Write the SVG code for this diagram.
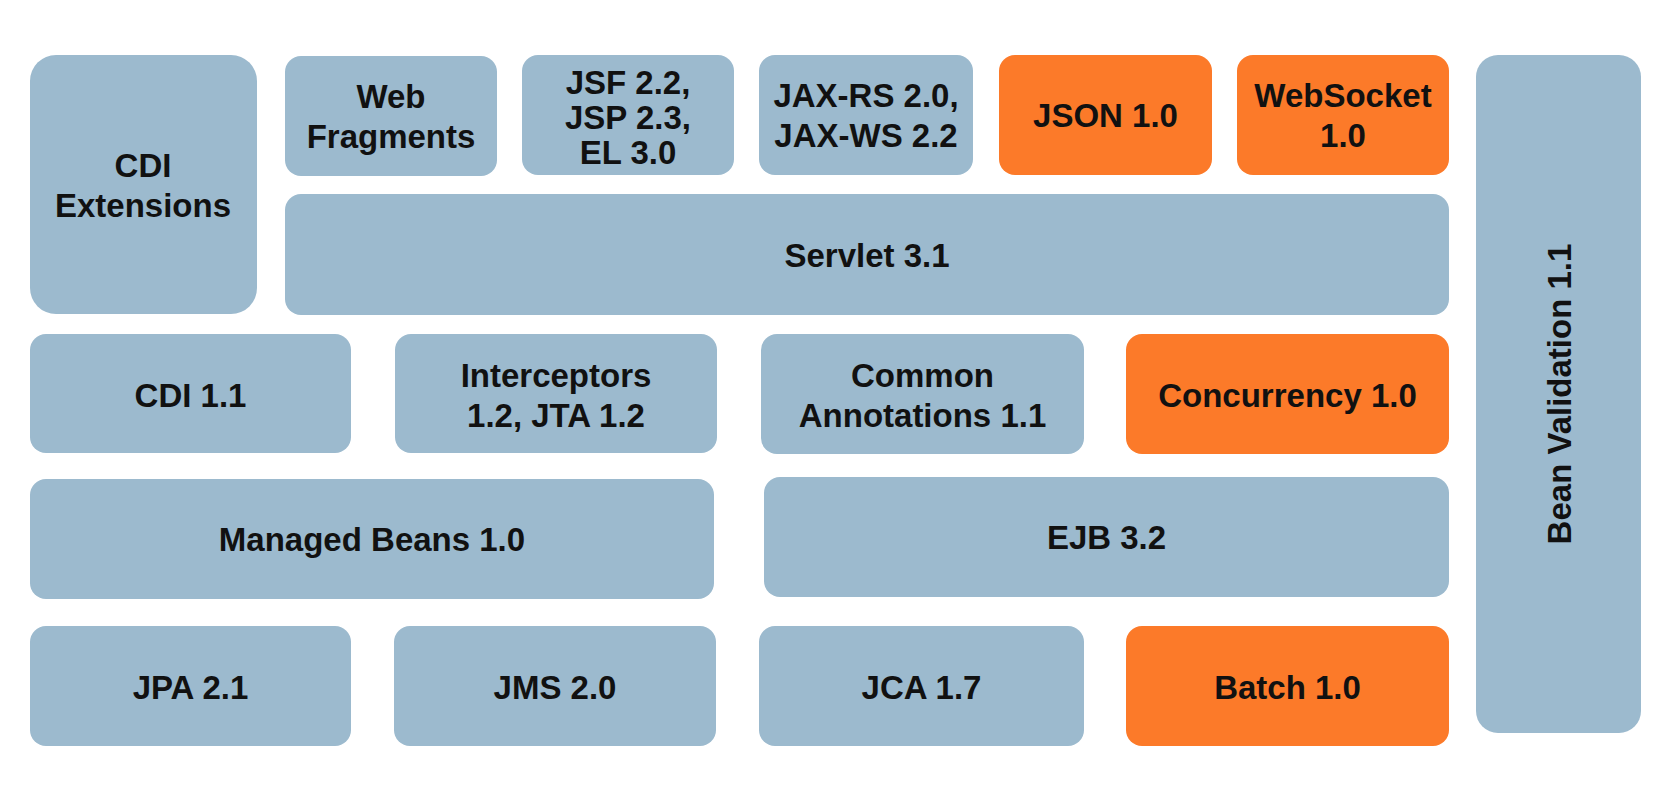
<svg xmlns="http://www.w3.org/2000/svg" width="1669" height="785" viewBox="0 0 1669 785">
  <style>
    .b { fill: #9cbace; }
    .o { fill: #fc7a29; }
    text { font-family: "Liberation Sans", Arial, Helvetica, sans-serif; font-weight: bold; font-size: 33px; fill: #111111; text-anchor: middle; }
  </style>
  <rect x="0" y="0" width="1669" height="785" fill="#ffffff"/>
  <g id="cdi-extensions">
    <rect class="b" x="30" y="55" width="227" height="259" rx="26" ry="26"/>
    <text x="143" y="177">CDI</text>
    <text x="143" y="217">Extensions</text>
  </g>
  <g id="web-fragments">
    <rect class="b" x="285" y="56" width="212" height="120" rx="16" ry="16"/>
    <text x="391" y="108">Web</text>
    <text x="391" y="148">Fragments</text>
  </g>
  <g id="jsf">
    <rect class="b" x="522" y="55" width="212" height="120" rx="16" ry="16"/>
    <text x="628" y="94">JSF 2.2,</text>
    <text x="628" y="129">JSP 2.3,</text>
    <text x="628" y="164">EL 3.0</text>
  </g>
  <g id="jax">
    <rect class="b" x="759" y="55" width="214" height="120" rx="16" ry="16"/>
    <text x="866" y="107">JAX-RS 2.0,</text>
    <text x="866" y="147">JAX-WS 2.2</text>
  </g>
  <g id="json">
    <rect class="o" x="999" y="55" width="213" height="120" rx="16" ry="16"/>
    <text x="1105.5" y="127">JSON 1.0</text>
  </g>
  <g id="websocket">
    <rect class="o" x="1237" y="55" width="212" height="120" rx="16" ry="16"/>
    <text x="1343" y="107">WebSocket</text>
    <text x="1343" y="147">1.0</text>
  </g>
  <g id="servlet">
    <rect class="b" x="285" y="194" width="1164" height="121" rx="16" ry="16"/>
    <text x="867" y="267">Servlet 3.1</text>
  </g>
  <g id="bean-validation">
    <rect class="b" x="1476" y="55" width="165" height="678" rx="22" ry="22"/>
    <text x="0" y="0" transform="translate(1571 394) rotate(-90)">Bean Validation 1.1</text>
  </g>
  <g id="cdi">
    <rect class="b" x="30" y="334" width="321" height="119" rx="16" ry="16"/>
    <text x="190.5" y="407">CDI 1.1</text>
  </g>
  <g id="interceptors">
    <rect class="b" x="395" y="334" width="322" height="119" rx="16" ry="16"/>
    <text x="556" y="387">Interceptors</text>
    <text x="556" y="427">1.2, JTA 1.2</text>
  </g>
  <g id="common-annotations">
    <rect class="b" x="761" y="334" width="323" height="120" rx="16" ry="16"/>
    <text x="922.5" y="387">Common</text>
    <text x="922.5" y="427">Annotations 1.1</text>
  </g>
  <g id="concurrency">
    <rect class="o" x="1126" y="334" width="323" height="120" rx="16" ry="16"/>
    <text x="1287.5" y="407">Concurrency 1.0</text>
  </g>
  <g id="managed-beans">
    <rect class="b" x="30" y="479" width="684" height="120" rx="16" ry="16"/>
    <text x="372" y="551">Managed Beans 1.0</text>
  </g>
  <g id="ejb">
    <rect class="b" x="764" y="477" width="685" height="120" rx="16" ry="16"/>
    <text x="1106.5" y="549">EJB 3.2</text>
  </g>
  <g id="jpa">
    <rect class="b" x="30" y="626" width="321" height="120" rx="16" ry="16"/>
    <text x="190.5" y="699">JPA 2.1</text>
  </g>
  <g id="jms">
    <rect class="b" x="394" y="626" width="322" height="120" rx="16" ry="16"/>
    <text x="555" y="699">JMS 2.0</text>
  </g>
  <g id="jca">
    <rect class="b" x="759" y="626" width="325" height="120" rx="16" ry="16"/>
    <text x="921.5" y="699">JCA 1.7</text>
  </g>
  <g id="batch">
    <rect class="o" x="1126" y="626" width="323" height="120" rx="16" ry="16"/>
    <text x="1287.5" y="699">Batch 1.0</text>
  </g>
  <g id="connectors"></g>
</svg>
